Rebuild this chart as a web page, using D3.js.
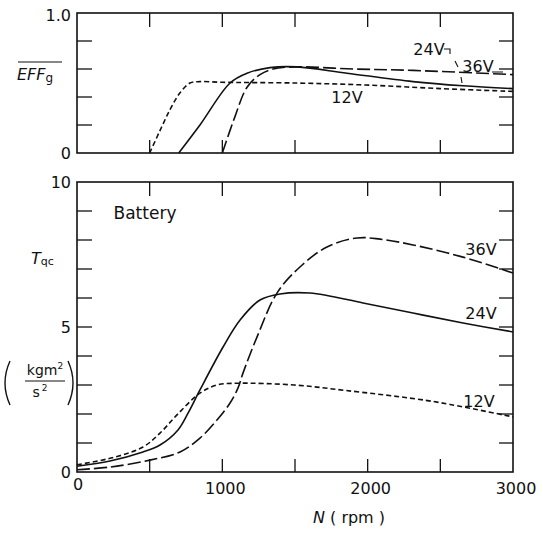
<!DOCTYPE html>
<html>
<head>
<meta charset="utf-8">
<script src="https://cdn.jsdelivr.net/npm/d3@7"></script>
<style>
  body { margin: 0; background: #fff; }
  svg text { font-family: "DejaVu Sans", sans-serif; fill: #111; }
</style>
</head>
<body>
<div id="chart"></div>
<script>
// ---- data (N in rpm)
var xTicks = [0, 1000, 2000, 3000];
var xMinor = [500, 1000, 1500, 2000, 2500];

// top panel: mean generator efficiency
var eff12N = [500, 571, 640, 709, 778, 846, 1000, 1500, 2000, 2500, 3000];
var eff12 = [0, 0.16, 0.31, 0.43, 0.50, 0.51, 0.505, 0.50, 0.485, 0.46, 0.44];
var eff24N = [700, 846, 1053, 1170, 1328, 1514, 1858, 2312, 2656, 3000];
var eff24 = [0, 0.20, 0.50, 0.57, 0.61, 0.615, 0.57, 0.51, 0.48, 0.46];
var eff36N = [1000, 1087, 1170, 1259, 1349, 1500, 1900, 2312, 3000];
var eff36 = [0, 0.26, 0.47, 0.56, 0.60, 0.615, 0.60, 0.59, 0.56];

// bottom panel: Tqc
var tq12N = [0, 250, 454, 571, 688, 846, 963, 1100, 1493, 1851, 2333, 2567, 3000];
var tq12 = [0.25, 0.5, 0.86, 1.34, 1.97, 2.72, 3.0, 3.06, 3.0, 2.81, 2.52, 2.33, 1.9];
var tq24N = [0, 227, 454, 571, 695, 764, 846, 1005, 1122, 1259, 1397, 1603, 1968, 2312, 2656, 3000];
var tq24 = [0.2, 0.38, 0.69, 0.93, 1.45, 2.03, 2.83, 4.31, 5.24, 5.93, 6.14, 6.17, 5.83, 5.48, 5.14, 4.83];
var tq36N = [0, 227, 502, 709, 846, 963, 1053, 1108, 1142, 1239, 1376, 1534, 1720, 1927, 2085, 2312, 2656, 3000];
var tq36 = [0.08, 0.17, 0.41, 0.69, 1.17, 1.79, 2.38, 2.9, 3.41, 4.66, 6.17, 7.07, 7.76, 8.07, 8.03, 7.83, 7.41, 6.86];

var W = 543, H = 533;
var left = 77, right = 513;

var svg = d3.select("#chart").append("svg")
    .attr("width", W)
    .attr("height", H);

var x = d3.scaleLinear().domain([0, 3000]).range([left, right]);
var yTop = d3.scaleLinear().domain([0, 1]).range([153, 13]);
var yBot = d3.scaleLinear().domain([0, 10]).range([472, 182]);

function zip(ns, vs) {
    return ns.map(function (n, i) { return { n: n, v: vs[i] }; });
}

// frame + inward ticks for one panel
function panel(y, yMinor) {
    var g = svg.append("g");
    var y0 = y.range()[0], y1 = y.range()[1];
    g.append("rect")
        .attr("x", left).attr("y", y1)
        .attr("width", right - left).attr("height", y0 - y1)
        .attr("fill", "none").attr("stroke", "#111").attr("stroke-width", 1.6);

    xMinor.forEach(function (n) {
        g.append("line").attr("x1", x(n)).attr("x2", x(n))
            .attr("y1", y1).attr("y2", y1 + 14);
        g.append("line").attr("x1", x(n)).attr("x2", x(n))
            .attr("y1", y0).attr("y2", y0 - 13);
    });
    yMinor.forEach(function (v) {
        g.append("line").attr("x1", left).attr("x2", left + 15)
            .attr("y1", y(v)).attr("y2", y(v));
        g.append("line").attr("x1", right).attr("x2", right - 14)
            .attr("y1", y(v)).attr("y2", y(v));
    });
    g.selectAll("line").attr("stroke", "#111").attr("stroke-width", 1.3);
    return g;
}

panel(yTop, [0.2, 0.4, 0.6, 0.8]);
panel(yBot, [1, 2, 3, 4, 5, 6, 7, 8, 9]);

function curve(y, ns, vs, dash) {
    var line = d3.line()
        .x(function (d) { return x(d.n); })
        .y(function (d) { return y(d.v); })
        .curve(d3.curveCatmullRom.alpha(0.5));
    svg.append("path")
        .datum(zip(ns, vs))
        .attr("d", line)
        .attr("fill", "none")
        .attr("stroke", "#111")
        .attr("stroke-width", 1.6)
        .attr("stroke-dasharray", dash);
}

var shortDash = "5,3", longDash = "13,4";

curve(yTop, eff12N, eff12, shortDash);
curve(yTop, eff24N, eff24, null);
curve(yTop, eff36N, eff36, longDash);

curve(yBot, tq12N, tq12, shortDash);
curve(yBot, tq24N, tq24, null);
curve(yBot, tq36N, tq36, longDash);

// ---- tick labels
function label(tx, ty, s, anchor, size) {
    return svg.append("text")
        .attr("x", tx).attr("y", ty)
        .attr("text-anchor", anchor || "middle")
        .attr("font-size", size || 16)
        .text(s);
}

label(71, 21, "1.0", "end");
label(71, 159, "0", "end");
label(71, 188, "10", "end");
label(71, 333, "5", "end");
label(71, 478, "0", "end");

xTicks.forEach(function (n) {
    label(x(n) + (n === 0 ? 1 : 3), n === 0 ? 490 : 494, String(n));
});

// axis titles
var eff = svg.append("text").attr("x", 17).attr("y", 80)
    .attr("font-size", 16).attr("font-style", "italic");
eff.append("tspan").text("EFF");
eff.append("tspan").attr("font-size", 12).attr("dy", 2).attr("font-style", "normal").text("g");
svg.append("line").attr("x1", 18).attr("x2", 62).attr("y1", 62).attr("y2", 62)
    .attr("stroke", "#111").attr("stroke-width", 1.2);

var tqc = svg.append("text").attr("x", 31).attr("y", 264)
    .attr("font-size", 16).attr("font-style", "italic");
tqc.append("tspan").text("T");
tqc.append("tspan").attr("font-size", 11).attr("dy", 1).attr("font-style", "normal").text("qc");

var num = svg.append("text").attr("x", 45).attr("y", 375)
    .attr("text-anchor", "middle").attr("font-size", 14);
num.append("tspan").text("kgm");
num.append("tspan").attr("font-size", 9).attr("dy", -6).text("2");
svg.append("line").attr("x1", 25).attr("x2", 65).attr("y1", 381).attr("y2", 381)
    .attr("stroke", "#111").attr("stroke-width", 1.2);
var den = svg.append("text").attr("x", 40).attr("y", 397)
    .attr("text-anchor", "middle").attr("font-size", 14);
den.append("tspan").text("s");
den.append("tspan").attr("font-size", 9).attr("dy", -6).attr("dx", 2).text("2");
svg.append("path").attr("d", "M10,361 Q0,383 10,405")
    .attr("fill", "none").attr("stroke", "#111").attr("stroke-width", 1.4);
svg.append("path").attr("d", "M68,361 Q78,383 68,405")
    .attr("fill", "none").attr("stroke", "#111").attr("stroke-width", 1.4);

var nl = svg.append("text").attr("x", 313).attr("y", 523).attr("font-size", 16);
nl.append("tspan").attr("font-style", "italic").text("N");
nl.append("tspan").text(" ( rpm )");

label(145, 219, "Battery", "middle", 17);

// series labels
label(429, 55, "24V");
label(478, 72, "36V");
label(347, 103, "12V");
label(481, 255, "36V");
label(481, 319, "24V");
label(479, 407, "12V");

// leader marks in the top panel
svg.append("path").attr("d", "M444,49 L450,49 L450,54 M455,61 L458,67 M461,77 L462,83 M492,72 L503,72")
    .attr("fill", "none").attr("stroke", "#111").attr("stroke-width", 1.1);
</script>
</body>
</html>
